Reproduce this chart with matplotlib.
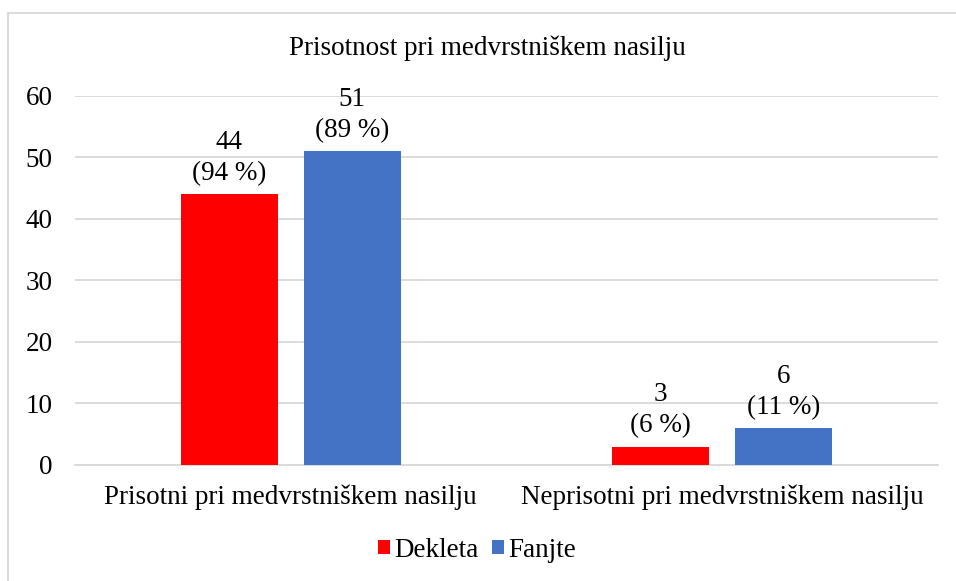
import matplotlib.pyplot as plt
import numpy as np
from matplotlib.lines import Line2D

plt.rcParams['font.family'] = ['Liberation Serif', 'DejaVu Serif']

# Podatki
kategorije = ['Prisotni pri medvrstniškem nasilju', 'Neprisotni pri medvrstniškem nasilju']
dekleta = [44, 3]
fantje = [51, 6]
dekleta_odst = [94, 6]
fantje_odst = [89, 11]
serije = ['Dekleta', 'Fanjte']
naslov = 'Prisotnost pri medvrstniškem nasilju'

fig = plt.figure(figsize=(9.56, 5.81), dpi=100)
ax = fig.add_axes([0.0785, 0.1997, 0.9025, 0.6351])

x = np.arange(len(kategorije))
w = 0.225
off = 0.1425
b1 = ax.bar(x - off, dekleta, w, color='#FF0000', label=serije[0], zorder=3)
b2 = ax.bar(x + off, fantje, w, color='#4472C4', label=serije[1], zorder=3)

# oznake nad stolpci
for bars, vals, odst in [(b1, dekleta, dekleta_odst), (b2, fantje, fantje_odst)]:
    for r, v, p in zip(bars, vals, odst):
        ax.annotate(f'{v}\n({p} %)', (r.get_x() + r.get_width() / 2, v),
                    xytext=(0, 6), textcoords='offset points',
                    ha='center', va='bottom', fontsize=19.5, linespacing=1.3)

ax.set_xlim(-0.5, 1.5)
ax.set_ylim(0, 60)
ax.set_yticks(range(0, 61, 10))
ax.set_xticks(x)
ax.set_xticklabels(kategorije)
ax.yaxis.grid(True, color='#D9D9D9', linewidth=1.3, zorder=0)
ax.tick_params(axis='y', length=0, labelsize=19.5, pad=16)
ax.tick_params(axis='x', length=0, labelsize=19.5, pad=14)
for s in ['top', 'right', 'left']:
    ax.spines[s].set_visible(False)
ax.spines['bottom'].set_color('#D9D9D9')
ax.spines['bottom'].set_linewidth(1.3)

fig.text(0.51, 0.917, naslov, ha='center', va='center', fontsize=19.5)

fig.legend(loc='center', bbox_to_anchor=(0.499, 0.053), ncol=2, frameon=False,
           fontsize=19.5, handlelength=0.45, handleheight=0.45,
           handletextpad=0.15, columnspacing=0.5)

# okvir grafikona
fig.add_artist(Line2D([8 / 956, 8 / 956], [0, 1 - 13 / 581], color='#D9D9D9', linewidth=1.3))
fig.add_artist(Line2D([8 / 956, 1], [1 - 13 / 581, 1 - 13 / 581], color='#D9D9D9', linewidth=1.3))

fig.savefig('out.png', dpi=100)
